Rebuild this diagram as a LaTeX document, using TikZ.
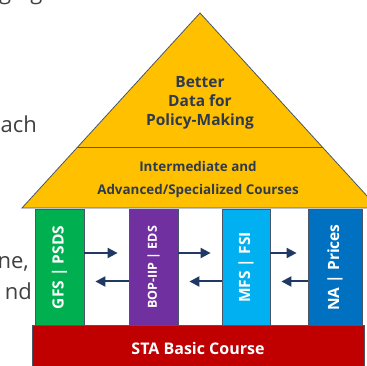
\documentclass[tikz,border=0pt]{standalone}
\usepackage{fontspec}
\setmainfont{Open Sans}
\usetikzlibrary{arrows.meta}
\definecolor{roofgold}{HTML}{FFC000}
\definecolor{edgegray}{HTML}{4A5568}
\definecolor{rooftext}{HTML}{2F3B4C}
\definecolor{gfsgreen}{HTML}{00B050}
\definecolor{boppurple}{HTML}{7030A0}
\definecolor{mfscyan}{HTML}{00B0F0}
\definecolor{nablue}{HTML}{0070C0}
\definecolor{stared}{HTML}{C00000}
\definecolor{arrownavy}{HTML}{1F3864}
\definecolor{bodygray}{HTML}{404040}

\begin{document}
\begin{tikzpicture}[x=1pt, y=-1pt,
   outline/.style={draw=edgegray, line width=0.8pt},
   pillar/.style={outline, minimum width=49pt, minimum height=117pt, inner sep=0pt},
   pillartext/.style={rotate=90, text=white, font=\bfseries\fontsize{15.5}{15.5}\selectfont},
   flow/.style={-{Triangle[length=10pt,width=10pt]}, line width=2pt, draw=arrownavy, shorten >= 11pt},
   bodytext/.style={text=bodygray, inner sep=0pt, font=\fontsize{22}{26}\selectfont}]
   \useasboundingbox (0,0) rectangle (367,366);

   \node[bodytext, anchor=base west] (frag0) at (-1,-0.5) {ging};
   \node[bodytext, anchor=base] (frag1) at (200,-2) {,};
   \node[bodytext, anchor=base east] (frag2) at (37,133) {ach};
   \node[bodytext, anchor=base east] (frag3) at (29,269) {ne,};
   \node[bodytext, anchor=base east] (frag4) at (32,299) {nd};

   \filldraw[outline, fill=roofgold] (200,13) -- (378,208) -- (22,208) -- cycle;
   \draw[outline] (77.7,147) -- (322.3,147);
   \node[align=center, text=rooftext, font=\bfseries\fontsize{15.5}{19}\selectfont] (goal) at (200,103)
      {Better\\Data for\\Policy-Making};
   \node[align=center, text=rooftext, font=\bfseries\fontsize{13.4}{23}\selectfont] (advanced) at (198,180)
      {Intermediate and\\Advanced/Specialized Courses};

   \node[pillar, fill=gfsgreen] (gfs) at (59.5,267.5) {};
   \node[pillar, fill=boppurple] (bop) at (153.5,267.5) {};
   \node[pillar, fill=mfscyan, minimum width=48pt] (mfs) at (246,267.5) {};
   \node[pillar, fill=nablue, minimum width=54pt] (na) at (335,267.5) {};
   \node[pillartext] at (gfs) {GFS | PSDS};
   \node[pillartext, font=\bfseries\fontsize{12.5}{12.5}\selectfont] at (bop) {BOP-IIP | EDS};
   \node[pillartext] at (mfs) {MFS | FSI};
   \node[pillartext] at (na) {NA | Prices};

   \draw[flow] ([yshift=14.5pt]gfs.east) -- ([yshift=14.5pt]bop.west);
   \draw[flow] ([yshift=-14pt]bop.west) -- ([yshift=-14pt]gfs.east);
   \draw[flow] ([yshift=14.5pt]bop.east) -- ([yshift=14.5pt]mfs.west);
   \draw[flow] ([yshift=-14pt]mfs.west) -- ([yshift=-14pt]bop.east);
   \draw[flow] ([yshift=14.5pt]mfs.east) -- ([yshift=14.5pt]na.west);
   \draw[flow] ([yshift=-14pt]na.west) -- ([yshift=-14pt]mfs.east);

   \node[outline, fill=stared, minimum width=332pt, minimum height=46pt, text=white,
      font=\bfseries\fontsize{16}{16}\selectfont] (sta) at (198,348) {STA Basic Course};
\end{tikzpicture}
\end{document}
